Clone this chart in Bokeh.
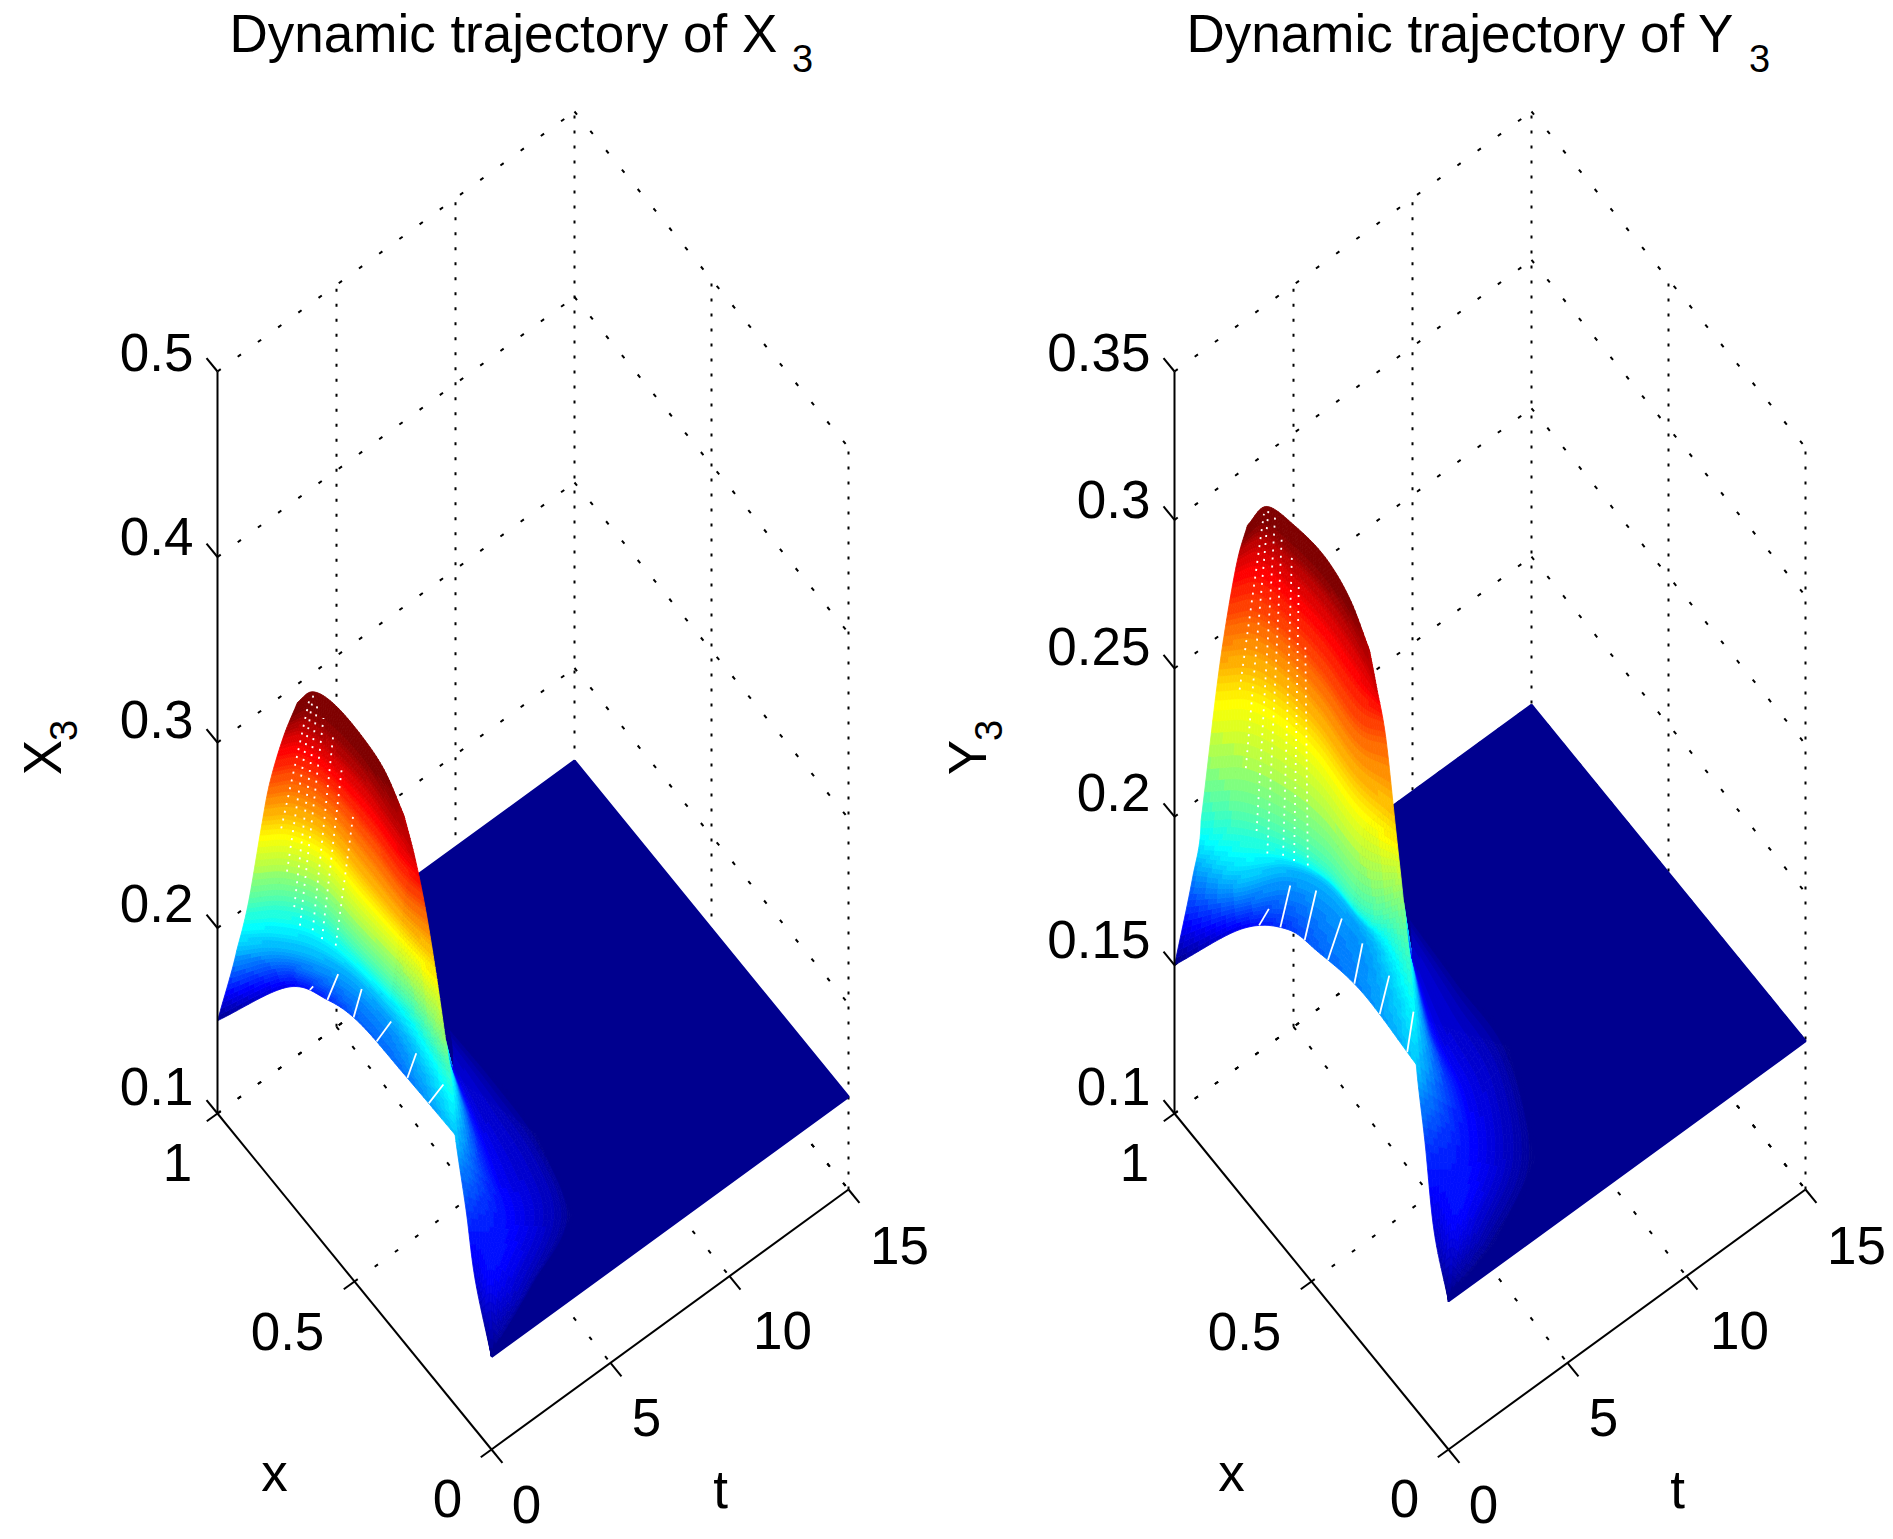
import numpy as np
from bokeh.plotting import figure
from bokeh.layouts import row
from bokeh.models import Range1d
from bokeh.core.properties import value
from bokeh.embed import file_html
from bokeh.resources import INLINE

FONT = "Liberation Sans"
X_TICKS = [0, 0.5, 1]
X_TICK_LABELS = ["0", "0.5", "1"]
T_TICKS = [0, 5, 10, 15]
T_TICK_LABELS = ["0", "5", "10", "15"]
Z_TICKS_L = [0.1, 0.2, 0.3, 0.4, 0.5]
Z_LABELS_L = ["0.1", "0.2", "0.3", "0.4", "0.5"]
Z_TICKS_R = [0.1, 0.15, 0.2, 0.25, 0.3, 0.35]
Z_LABELS_R = ["0.1", "0.15", "0.2", "0.25", "0.3", "0.35"]
FLAT_LEVEL = 0.15

# surface of X3: rows follow colour bands, columns run from x=1 side to x=0 side
L_X = [[1, .905, .796, .678, .512, .277],
       [.93, .885, .814, .716, .566, .321],
       [.916, .873, .803, .676, .515, .353],
       [.911, .869, .786, .660, .520, .417],
       [.905, .870, .785, .645, .525, .462],
       [.894, .868, .778, .676, .571, .492],
       [.862, .862, .815, .723, .639, .569]]
L_T = [[0, 1.85, 2.27, 2.26, 2.19, 1.66],
       [0, 1.07, 1.93, 2.49, 2.64, 2.02],
       [.33, 1.30, 2.0, 2.22, 2.43, 2.14],
       [.80, 1.62, 2.17, 2.22, 2.30, 2.43],
       [1.10, 1.91, 2.35, 2.43, 2.36, 2.53],
       [1.54, 2.17, 2.46, 2.59, 2.50, 2.44],
       [1.77, 2.39, 2.69, 2.75, 2.83, 2.87]]
L_Z = [[.15, .168, .177, .186, .1896, .204],
       [.2004, .2004, .2004, .2004, .2004, .2184],
       [.2256, .2256, .2256, .2256, .2256, .2364],
       [.2616, .2616, .2616, .2616, .2616, .2616],
       [.285, .285, .285, .285, .285, .285],
       [.3075, .3075, .3075, .3075, .3075, .3075],
       [.33, .33, .33, .33, .3246, .312]]
L_TAIL_X = [[.353, .321, .277, .201, .116, 0],
            [.516, .383, .265, .161, .084, 0],
            [.602, .445, .279, .143, .048, 0],
            [.682, .527, .355, .152, .081, 0]]
L_TAIL_T = [[2.14, 2.02, 1.66, 1.25, .65, 0],
            [4.32, 3.72, 3.11, 2.48, 1.03, 0],
            [5.31, 5.18, 4.96, 4.15, 1.74, 0],
            [6.04, 6.13, 6.02, 5.19, 2.86, 0]]
L_TAIL_Z = [[.2364, .2184, .204, .1806, .1644, .15],
            [.1716, .1716, .1716, .1716, .1716, .15],
            [.159, .159, .159, .159, .159, .15],
            [.15, .15, .15, .15, .15, .15]]
L_ZMAX = 0.323

# surface of Y3
R_X = [[1, .89, .777, .658, .487, .228],
       [.936, .826, .780, .694, .553, .314],
       [.903, .818, .727, .621, .484, .393],
       [.922, .875, .794, .687, .530, .417],
       [.929, .895, .812, .691, .551, .493],
       [.920, .902, .813, .701, .577, .490],
       [.863, .872, .795, .699, .615, .550]]
R_T = [[0, 1.57, 2.15, 2.09, 1.99, 1.27],
       [0, .65, 2.18, 2.88, 2.94, 2.07],
       [0, .75, 1.57, 2.04, 2.16, 2.64],
       [.86, 1.78, 2.25, 2.42, 2.30, 2.59],
       [1.37, 2.20, 2.55, 2.67, 2.55, 3.04],
       [1.73, 2.55, 2.84, 2.96, 2.84, 2.63],
       [1.49, 2.40, 2.73, 2.85, 2.91, 3.01]]
R_Z = [[.15, .1655, .1748, .181, .1872, .1965],
       [.1857, .1934, .1934, .1934, .1934, .2089],
       [.2097, .2151, .2151, .2151, .2151, .2244],
       [.2461, .2461, .2461, .2461, .2461, .2461],
       [.2663, .2663, .2663, .2663, .2663, .2663],
       [.2856, .2856, .2856, .2856, .2856, .2856],
       [.305, .305, .305, .305, .3004, .2895]]
R_TAIL_X = [[.393, .314, .228, .180, .090, 0],
            [.589, .415, .266, .142, .047, 0],
            [.690, .496, .319, .136, .036, 0],
            [.777, .600, .394, .143, .044, 0]]
R_TAIL_T = [[2.64, 2.07, 1.27, 1.09, .43, 0],
            [5.24, 4.18, 3.59, 2.52, .87, 0],
            [6.40, 6.04, 5.69, 4.15, 1.68, 0],
            [7.31, 7.24, 7.12, 5.35, 2.52, 0]]
R_TAIL_Z = [[.2244, .2089, .1965, .1764, .1609, .15],
            [.1686, .1686, .1686, .1686, .1686, .15],
            [.1578, .1578, .1578, .1578, .1578, .15],
            [.15, .15, .15, .15, .15, .15]]
R_ZMAX = 0.299

# outline of the flat sheet, its inner part tucked beneath the raised part: (x, t)
L_FLAT_X = [1, 0, 0, .081, .152, .355, .6, .8, 1]
L_FLAT_T = [15, 15, 0, 2.86, 5.19, 6.02, 5.0, 5.0, 8.0]
R_FLAT_X = [1, 0, 0, .044, .143, .394, .6, .8, 1]
R_FLAT_T = [15, 15, 0, 2.52, 5.35, 7.12, 5.0, 5.0, 8.0]

# white seams, in mesh index terms: (column, row) to (column, row)
L_SEAMS_LOW = [(1.5, 0, 1.7, .2), (2.0, 0, 2.6, .8), (2.85, 0, 3.15, .95),
               (3.45, 0, 3.8, .9), (4.05, 0, 4.3, .85), (4.5, 0, 4.8, .85)]
R_SEAMS_LOW = [(1.35, 0, 1.55, .35), (1.85, 0, 2.06, .72), (2.55, 0, 2.75, .82), (3.27, 0, 3.4, .78),
               (3.8, 0, 3.95, .76), (4.3, 0, 4.48, .78), (4.8, 0, 4.96, .64)]
SEAMS_HIGH = [(0.7, 3.0, 0.9, 5.8), (1.0, 2.4, 1.05, 5.9), (1.3, 1.9, 1.35, 5.8), (1.6, 1.6, 1.6, 5.6),
              (1.9, 1.6, 1.9, 5.4), (2.2, 1.5, 2.2, 5.0), (2.5, 1.6, 2.5, 4.2)]

# projection of the view
U_VEC = (274.0, 336.0)
T_VEC = (357.0, -260.0)
ORIGIN_Y = 1113.0
BOX_H = 742.0
PANEL_SHIFT = 957.0
ORIGIN_X = 217.0


def project(x, t, z, shift, zlo, zhi):
    x, t, z = np.asarray(x, float), np.asarray(t, float), np.asarray(z, float)
    u = 1 - x
    v = t / 15.0
    sx = ORIGIN_X + shift + U_VEC[0] * u + T_VEC[0] * v
    sy = ORIGIN_Y + U_VEC[1] * u + T_VEC[1] * v - BOX_H * (z - zlo) / (zhi - zlo)
    return sx, sy


def spline(p, n):
    p = np.asarray(p, float)
    P = np.concatenate([[2 * p[0] - p[1]], p, [2 * p[-1] - p[-2]]])
    out = []
    for i in range(1, len(P) - 2):
        for k in range(n):
            s = k / n
            out.append(0.5 * (2 * P[i] + (P[i + 1] - P[i - 1]) * s
                              + (2 * P[i - 1] - 5 * P[i] + 4 * P[i + 1] - P[i + 2]) * s ** 2
                              + (3 * P[i] - P[i - 1] - 3 * P[i + 1] + P[i + 2]) * s ** 3))
    out.append(p[-1])
    return np.array(out)


def fine(M, n):
    M = np.asarray(M, float)
    A = np.array([spline(r, n) for r in M])
    return np.array([spline(c, n) for c in A.T]).T


def jet(c):
    idx = min(int(np.clip(c, 0, 1) * 64), 63)
    c = (idx + 1) / 64
    r = np.clip(min(4 * c - 1.5, -4 * c + 4.5), 0, 1)
    g = np.clip(min(4 * c - 0.5, -4 * c + 3.5), 0, 1)
    b = np.clip(min(4 * c + 0.5, -4 * c + 2.5), 0, 1)
    return "#%02x%02x%02x" % (int(r * 255), int(g * 255), int(b * 255))


def draw_mesh(p, MX, MT, MZ, n, zmax, shift, zlo, zhi):
    X = np.clip(fine(MX, n), 0, 1)
    T = np.clip(fine(MT, n), 0, 15)
    Z = np.maximum(fine(MZ, n), FLAT_LEVEL)
    sx, sy = project(X, T, Z, shift, zlo, zhi)
    xs, ys, cols = [], [], []
    for i in range(X.shape[0] - 1):
        for j in range(X.shape[1] - 1):
            xs.append([sx[i, j], sx[i, j + 1], sx[i + 1, j + 1], sx[i + 1, j]])
            ys.append([sy[i, j], sy[i, j + 1], sy[i + 1, j + 1], sy[i + 1, j]])
            zm = (Z[i, j] + Z[i, j + 1] + Z[i + 1, j + 1] + Z[i + 1, j]) / 4
            cols.append(jet((zm - FLAT_LEVEL) / (zmax - FLAT_LEVEL)))
    p.patches(xs, ys, fill_color=cols, line_color=cols, line_width=0.8)
    return sx, sy


def panel(x0, x1, shift, title, zname, zlab_dx, zlo, zhi, zticks, zlabels,
          MX, MT, MZ, TX, TT, TZ, zmax, FX, FT, seams_low):
    p = figure(width=int(x1 - x0), height=1535, x_range=Range1d(x0, x1), y_range=Range1d(1535, 0),
               x_axis_location=None, y_axis_location=None, toolbar_location=None,
               output_backend="svg", min_border=0, outline_line_color=None)
    p.grid.visible = False
    P = lambda x, t, z: project(x, t, z, shift, zlo, zhi)

    def lines(seg, dash=None, width=2.0):
        xs, ys = [], []
        for a, b in seg:
            sa, sb = P(*a), P(*b)
            xs.append([float(sa[0]), float(sb[0])])
            ys.append([float(sa[1]), float(sb[1])])
        if dash:
            p.multi_line(xs, ys, line_color="black", line_width=width, line_dash=dash)
        else:
            p.multi_line(xs, ys, line_color="black", line_width=width)

    up = [((1, t, zlo), (1, t, zhi)) for t in T_TICKS[1:]] + [((x, 15, zlo), (x, 15, zhi)) for x in X_TICKS[:2]]
    lines(up, "3 12")
    sl = [((1, 0, z), (1, 15, z)) for z in zticks] + [((1, 15, z), (0, 15, z)) for z in zticks]
    sl += [((x, 0, zlo), (x, 15, zlo)) for x in X_TICKS[1:]] + [((1, t, zlo), (0, t, zlo)) for t in T_TICKS[1:]]
    lines(sl, "4 21")

    fx, fy = P(FX, FT, [FLAT_LEVEL] * len(FX))
    p.patch(fx.tolist(), fy.tolist(), fill_color=jet(0), line_color=jet(0), line_width=2.5)
    draw_mesh(p, TX, TT, TZ, 10, zmax, shift, zlo, zhi)
    n = 12
    sx, sy = draw_mesh(p, MX, MT, MZ, n, zmax, shift, zlo, zhi)

    for seams, dash, width in ((seams_low, None, 1.8), (SEAMS_HIGH, "2 6", 1.8)):
        xs, ys = [], []
        for c0, r0, c1, r1 in seams:
            i0, j0 = int(round(r0 * n)), int(round(c0 * n))
            i1, j1 = int(round(r1 * n)), int(round(c1 * n))
            xs.append([float(sx[i0, j0]), float(sx[i1, j1])])
            ys.append([float(sy[i0, j0]), float(sy[i1, j1])])
        if dash:
            p.multi_line(xs, ys, line_color="white", line_width=width, line_dash=dash)
        else:
            p.multi_line(xs, ys, line_color="white", line_width=width)

    ax = [((1, 0, zlo), (1, 0, zhi)), ((1, 0, zlo), (0, 0, zlo)), ((0, 0, zlo), (0, 15, zlo))]
    ax += [((1, 0, z), (1.04, 0, z)) for z in zticks]
    ax += [((x, 0, zlo), (x, -0.45, zlo)) for x in X_TICKS]
    ax += [((0, t, zlo), (-0.04, t, zlo)) for t in T_TICKS]
    lines(ax, None, 2.0)

    def txt(x, y, s, size=53, align="center", base="middle", angle=0.0):
        p.text([x + shift], [y], text=[s], text_font=value(FONT), text_font_size=f"{size}px",
               text_align=align, text_baseline=base, text_color="black", angle=angle)

    txt(229, 33, title, 53, "left", "alphabetic")
    txt(802, 58, "3", 38, "center", "alphabetic")
    for z, s in zip(zticks, zlabels):
        yy = float(P(1, 0, z)[1]) - 19 - 8 * (zhi - z) / (zhi - zlo)
        txt(193, yy, s, 53, "right")
    for (xx, yy), s in zip([(447, 1498), (287, 1331), (177, 1162)], X_TICK_LABELS):
        txt(xx, yy, s)
    for (xx, yy), s in zip([(526, 1504), (646, 1417), (782, 1330), (899, 1245)], T_TICK_LABELS):
        txt(xx, yy, s)
    txt(274, 1472, "x")
    txt(720, 1489, "t")
    txt(42 + zlab_dx, 757, zname, 53, "center", "middle", np.pi / 2)
    txt(63 + zlab_dx, 730, "3", 38, "center", "middle", np.pi / 2)
    return p


left = panel(0, 938, 0, "Dynamic trajectory of X", "X", 0, 0.1, 0.5, Z_TICKS_L, Z_LABELS_L,
             L_X, L_T, L_Z, L_TAIL_X, L_TAIL_T, L_TAIL_Z, L_ZMAX, L_FLAT_X, L_FLAT_T, L_SEAMS_LOW)
right = panel(938, 1885, PANEL_SHIFT, "Dynamic trajectory of Y", "Y", -32, 0.1, 0.35, Z_TICKS_R, Z_LABELS_R,
              R_X, R_T, R_Z, R_TAIL_X, R_TAIL_T, R_TAIL_Z, R_ZMAX, R_FLAT_X, R_FLAT_T, R_SEAMS_LOW)

page = row(left, right)
open("out.html", "w").write(file_html(page, INLINE))
